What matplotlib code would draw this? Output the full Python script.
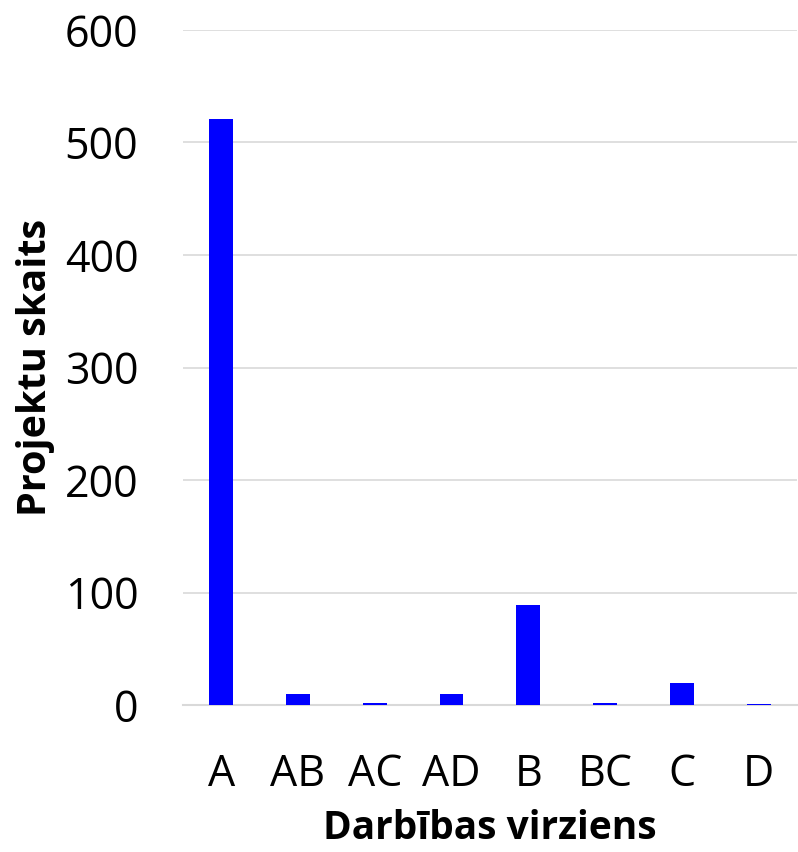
import matplotlib
matplotlib.use("Agg")
import matplotlib.pyplot as plt

categories = ["A", "AB", "AC", "AD", "B", "BC", "C", "D"]
values = [521, 10, 2, 10, 89, 2, 20, 1]
yticks = [0, 100, 200, 300, 400, 500, 600]

plt.rcParams['font.family'] = ['Open Sans', 'DejaVu Sans']

fig = plt.figure(figsize=(7.98, 8.52), dpi=100)
ax = fig.add_axes([0.229, 0.1725, 0.770, 0.7923])

x = list(range(len(categories)))
ax.bar(x, values, width=0.31, color="#0000FF", edgecolor="none", zorder=3)

ax.set_xlim(-0.5, len(categories) - 0.5)
ax.set_ylim(0, 600)
ax.set_yticks(yticks)
ax.set_xticks(x)
ax.set_xticklabels(categories)
ax.yaxis.grid(True, color="#D9D9D9", linewidth=1.2, zorder=0)
ax.set_axisbelow(True)
for s in ["top", "right", "left"]:
    ax.spines[s].set_visible(False)
ax.spines["bottom"].set_color("#D9D9D9")
ax.spines["bottom"].set_linewidth(1.5)
ax.tick_params(axis="both", length=0, labelsize=31, colors="black")
ax.tick_params(axis="x", pad=34)
ax.tick_params(axis="y", pad=32)

ax.set_xlabel("Darbības virziens", fontsize=28, fontweight="bold", labelpad=9)
ax.set_ylabel("Projektu skaits", fontsize=28.5, fontweight="bold", labelpad=7)

fig.savefig("out.png", dpi=100, facecolor="white")
